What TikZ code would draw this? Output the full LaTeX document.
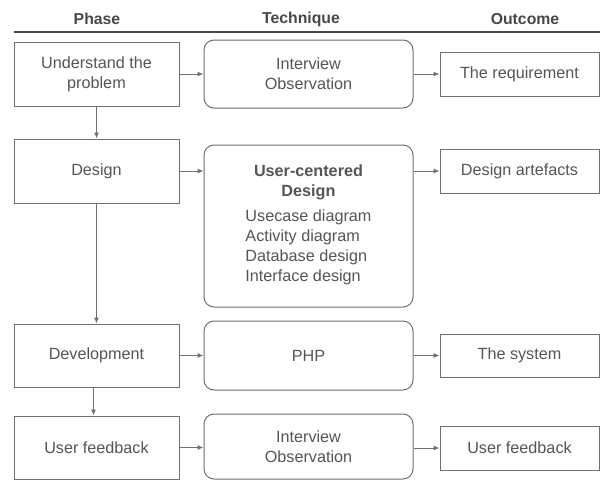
\documentclass[tikz,border=0pt]{standalone}
\usepackage{fontspec}
\setmainfont{Liberation Sans}
\usetikzlibrary{arrows.meta}
\definecolor{ln}{HTML}{707070}
\definecolor{tx}{HTML}{555555}
\definecolor{hd}{HTML}{484848}
\begin{document}
\begin{tikzpicture}[x=1pt,y=-1pt,
  every node/.style={font=\fontsize{16.2}{20}\selectfont, text=tx},
  phasebox/.style={draw=ln, line width=1pt, minimum width=165pt, align=center, inner sep=0pt},
  techbox/.style={draw=ln, line width=1pt, rounded corners=10pt, minimum width=209pt, align=center, inner sep=0pt},
  outbox/.style={draw=ln, line width=1pt, minimum width=159pt, align=center, inner sep=0pt},
  headtext/.style={font=\fontsize{15.8}{18}\selectfont\bfseries, text=hd},
  arr/.style={draw=ln, line width=1pt, -{Latex[length=6pt,width=5pt]}}
]
\useasboundingbox (0,0) rectangle (600,480);
\fill[white] (0,0) rectangle (600,480);

% headers
\node[headtext] (h1) at (97,19) {Phase};
\node[headtext] (h2) at (301,19) {Technique};
\node[headtext] (h3) at (525,19) {Outcome};
\coordinate (hl) at (14,32);
\coordinate (hr) at (600,32);
\draw[draw=hd, line width=1.1pt] (hl) -- (hr);

% phase column
\node[phasebox, minimum height=64pt] (p1) at (96.5,74) {Understand the\\problem};
\node[phasebox, minimum height=64pt] (p2) at (96.5,171) {Design};
\node[phasebox, minimum height=63pt] (p3) at (96.5,355.5) {Development};
\node[phasebox, minimum height=63pt] (p4) at (96.5,447.5) {User feedback};

% technique column
\node[techbox, minimum height=68pt] (t1) at (308.5,74) {Interview\\Observation};
\node[techbox, minimum height=162pt] (t2) at (308.5,226) {\textbf{User-centered}\\\textbf{Design}\\[6pt]%
  \begin{tabular}{@{}l@{}}Usecase diagram\\Activity diagram\\Database design\\Interface design\end{tabular}};
\node[techbox, minimum height=69pt] (t3) at (308.5,355.5) {PHP};
\node[techbox, minimum height=65pt] (t4) at (308.5,446.5) {Interview\\Observation};

% outcome column
\node[outbox, minimum height=44pt] (o1) at (519.5,74) {The requirement};
\node[outbox, minimum height=44pt] (o2) at (519.5,171) {Design artefacts};
\node[outbox, minimum height=43pt] (o3) at (519.5,355.5) {The system};
\node[outbox, minimum height=44pt] (o4) at (519.5,448) {User feedback};

% horizontal arrows
\draw[arr] (p1.east) -- (p1.east -| t1.west);
\draw[arr] (t1.east) -- (t1.east -| o1.west);
\draw[arr] (p2.east) -- (p2.east -| t2.west);
\draw[arr] (o2.west -| t2.east) -- (o2.west);
\draw[arr] (p3.east) -- (p3.east -| t3.west);
\draw[arr] (t3.east) -- (t3.east -| o3.west);
\draw[arr] (p4.east) -- (p4.east -| t4.west);
\draw[arr] (o4.west -| t4.east) -- (o4.west);

% vertical arrows
\draw[arr] (p1.south) -- (p2.north);
\draw[arr] (p2.south) -- (p3.north);
\draw[arr] ([xshift=-3pt]p3.south) -- ([xshift=-3pt]p4.north);
\end{tikzpicture}
\end{document}
